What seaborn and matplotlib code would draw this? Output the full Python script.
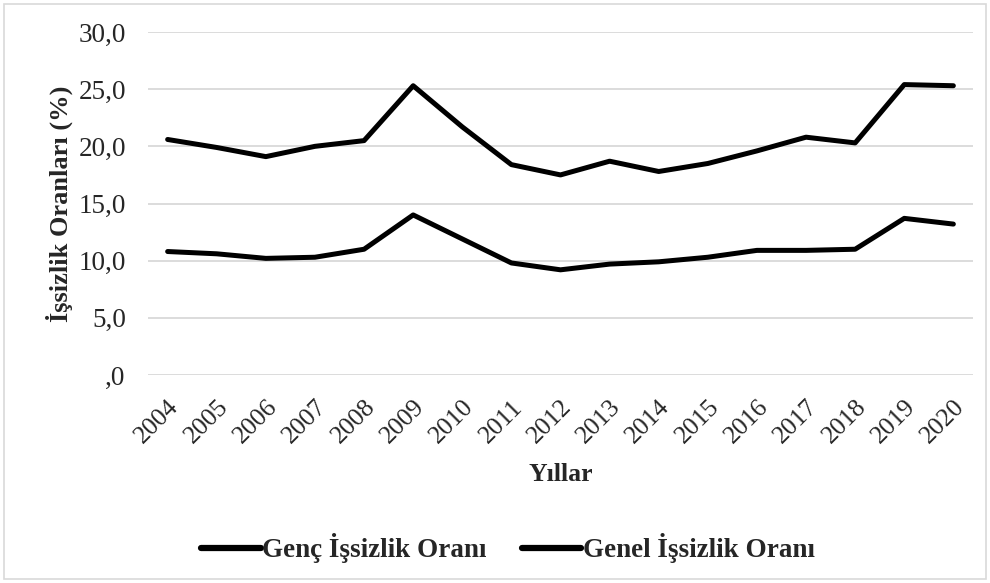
import matplotlib
matplotlib.use("Agg")
import matplotlib.pyplot as plt
import seaborn as sns
import pandas as pd
from matplotlib.patches import Rectangle

years = [str(y) for y in range(2004, 2021)]
genc = [20.6, 19.9, 19.1, 20.0, 20.5, 25.3, 21.7, 18.4, 17.5, 18.7, 17.8, 18.5, 19.6, 20.8, 20.3, 25.4, 25.3]
genel = [10.8, 10.6, 10.2, 10.3, 11.0, 14.0, 11.9, 9.8, 9.2, 9.7, 9.9, 10.3, 10.9, 10.9, 11.0, 13.7, 13.2]
series_names = ["Genç İşsizlik Oranı", "Genel İşsizlik Oranı"]
y_ticks = [0, 5, 10, 15, 20, 25, 30]

df = pd.DataFrame({"Yıl": years * 2,
                   "Oran": genc + genel,
                   "Seri": [series_names[0]] * len(years) + [series_names[1]] * len(years)})

sns.set_style("white")
plt.rcParams['font.family'] = ['Liberation Serif', 'DejaVu Serif']

fig = plt.figure(figsize=(9.9, 5.83), dpi=100)
ax = fig.add_axes([148 / 990, 1 - 375 / 583, (973 - 148) / 990, (375 - 32) / 583])

sns.lineplot(data=df, x="Yıl", y="Oran", hue="Seri", palette=["black", "black"],
             linewidth=3.6, ax=ax, sort=False, legend=True)

ax.set_xlim(-0.4, len(years) - 0.6)
ax.set_ylim(0, 30)
ax.set_yticks(y_ticks)
ax.set_yticklabels([("%.1f" % v).replace(".", ",") if v else ",0" for v in y_ticks], fontsize=19.5)
ax.yaxis.grid(True, color="#d9d9d9", linewidth=1.3)
ax.set_axisbelow(True)
for s in ax.spines.values():
    s.set_visible(False)
ax.tick_params(axis="both", length=0)
ax.tick_params(axis="y", pad=16)
plt.setp(ax.get_xticklabels(), rotation=45, ha="right", rotation_mode="anchor", fontsize=18.5)
ax.tick_params(axis="x", pad=15)

ax.set_xlabel("Yıllar", fontsize=18.5, fontweight="bold", labelpad=11)
ax.set_ylabel("İşsizlik Oranları (%)", fontsize=19, fontweight="bold", labelpad=4)

leg = ax.legend(loc="center", bbox_to_anchor=(508 / 990, (583 - 548) / 583), bbox_transform=fig.transFigure,
                ncol=2, frameon=False, handlelength=2.2, handletextpad=0.05, columnspacing=1.3,
                prop={"size": 19.5, "weight": "bold"})
for h in leg.get_lines():
    h.set_linewidth(4.5)

fig.patches.append(Rectangle((4 / 990, 4 / 583), 982 / 990, 575 / 583, transform=fig.transFigure,
                             fill=False, edgecolor="#d9d9d9", linewidth=1.2))

fig.savefig("out.png", dpi=100)
